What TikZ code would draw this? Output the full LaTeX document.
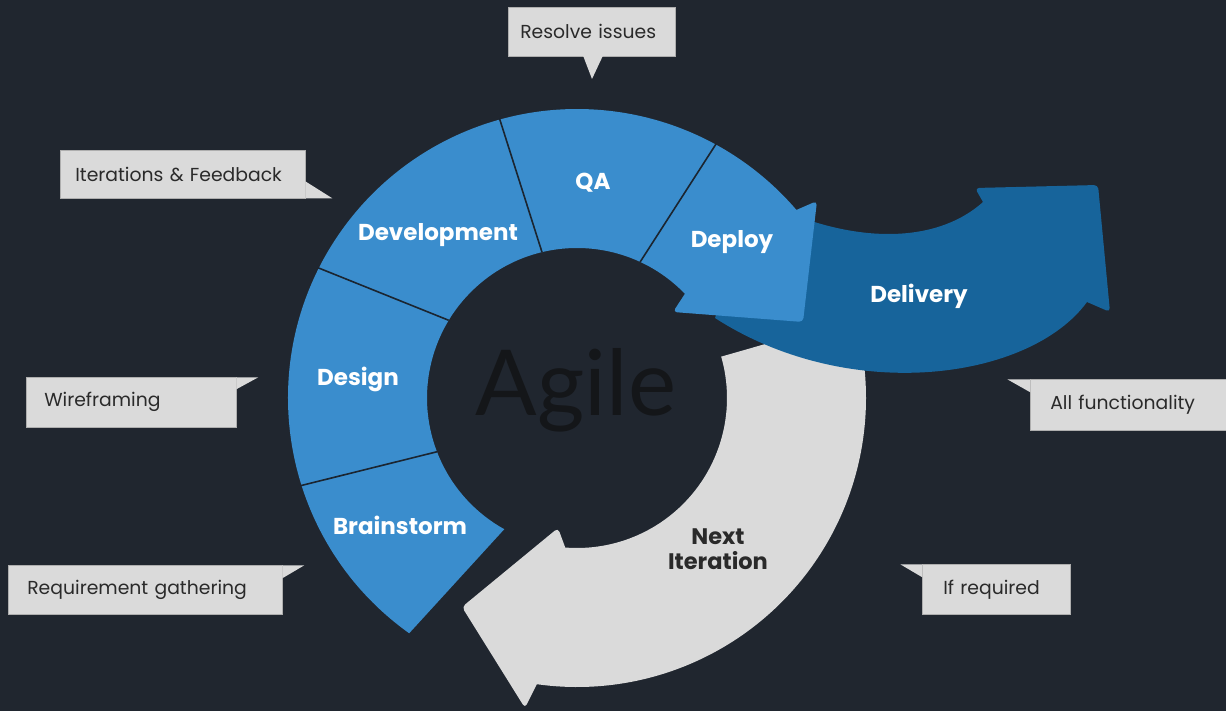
\documentclass[tikz,border=0pt]{standalone}
\usepackage{fontspec}
\setmainfont{Poppins}
\newfontfamily\agilefont{Lato}
\usetikzlibrary{calc}
\definecolor{bgc}{HTML}{20262F}
\definecolor{ringblue}{HTML}{3A8DCD}
\definecolor{delblue}{HTML}{17649B}
\definecolor{lgray}{HTML}{DADADA}
\definecolor{txtdark}{HTML}{2A2A2A}
\definecolor{sepc}{HTML}{1B2530}
\definecolor{agilec}{HTML}{141619}
\begin{document}
\begin{tikzpicture}[x=1pt,y=1pt,
  ringlabel/.style={text=white,font=\fontsize{23}{26}\selectfont\bfseries,inner sep=0pt},
  iterlabel/.style={text=txtdark,font=\fontsize{22.5}{25}\selectfont\bfseries,inner sep=0pt,align=center},
  callbox/.style={fill=lgray,draw=lgray!80!black,line width=0.6pt,anchor=north west,
    text=txtdark,font=\fontsize{18.8}{22}\selectfont,align=left,inner ysep=0pt},
  pointer/.style={fill=lgray},
  sepline/.style={draw=sepc,line width=1.6pt}]
\fill[bgc] (0,0) rectangle (1226,-711);
\useasboundingbox (0,0) rectangle (1226,-711);
\coordinate (C) at (577,-398);

% Next iteration (gray) arrow
\fill[lgray] ([shift={(C)}]16:150) arc[start angle=16,end angle=-94.5,radius=150]
  [rounded corners=4pt] -- (558,-528) -- (462,-607) -- (525,-708) [sharp corners]
  -- ([shift={(C)}]-98:289) arc[start angle=-98,end angle=16,radius=289] -- cycle;

% Delivery (dark blue) arrow
\fill[delblue] (760,-200) .. controls (850,-245) and (935,-245) .. (983,-202)
  [rounded corners=4pt] -- (975,-188) -- (1098,-185) -- (1110,-312) [sharp corners] -- (1087,-302)
  .. controls (1030,-380) and (850,-405) .. (715,-318) -- cycle;

% Blue ring with Deploy arrowhead
\fill[ringblue] ([shift={(C)}]234.5:289) arc[start angle=234.5,end angle=40.6,radius=289]
  [rounded corners=4pt] -- (817,-201) -- (803,-322) -- (673,-312) [sharp corners]
  -- ([shift={(C)}]44:150) arc[start angle=44,end angle=241,radius=150] -- cycle;

% separators
\coordinate (s1o) at ([shift={(C)}]197.6:290);
\coordinate (s1i) at ([shift={(C)}]201:150);
\coordinate (s2o) at ([shift={(C)}]153.3:290);
\coordinate (s2i) at ([shift={(C)}]148.8:150);
\coordinate (s3o) at ([shift={(C)}]105.5:290);
\coordinate (s3i) at ([shift={(C)}]103.5:150);
\coordinate (s4o) at ([shift={(C)}]61.3:290);
\coordinate (s4i) at ([shift={(C)}]65.1:150);
\draw[sepline] (s1o) -- (s1i);
\draw[sepline] (s2o) -- (s2i);
\draw[sepline] (s3o) -- (s3i);
\draw[sepline] (s4o) -- (s4i);

% centre word
\node[text=agilec,font=\agilefont\fontsize{91}{96}\selectfont,inner sep=0pt] (agile) at (576,-390) {Agile};

% ring labels
\node[ringlabel] (dev) at (438,-235) {Development};
\node[ringlabel] (qa) at (593,-183) {QA};
\node[ringlabel] (dep) at (732,-242) {Deploy};
\node[ringlabel] (des) at (358,-379) {Design};
\node[ringlabel] (brn) at (400,-525) {Brainstorm};
\node[ringlabel] (del) at (919,-296) {Delivery};
\node[iterlabel] (nxt) at (718,-549) {Next\\Iteration};

% callouts
\node[callbox,inner xsep=12pt,text width=143pt,minimum height=49pt] (c1) at (508,-7) {Resolve issues};
\fill[pointer] (583,-55.5) -- (603,-55.5) -- (592,-79) -- cycle;

\node[callbox,inner xsep=15pt,text width=215pt,minimum height=48pt] (c2) at (60,-150) {Iterations \& Feedback};
\fill[pointer] (c2.south east) ++(-0.3,0.3) -- ++(0,17) -- ++(27,-17) -- cycle;

\node[callbox,inner xsep=18pt,text width=174pt,minimum height=50pt] (c3) at (26,-377) {Wireframing};
\fill[pointer] (c3.north east) ++(-0.3,-0.3) -- ++(22,0) -- ++(-22,-12) -- cycle;

\node[callbox,inner xsep=19pt,text width=236pt,minimum height=49pt] (c4) at (8,-565) {Requirement gathering};
\fill[pointer] (c4.north east) ++(-0.3,-0.3) -- ++(22,0) -- ++(-22,-13) -- cycle;

\node[callbox,inner xsep=20pt,text width=170pt,minimum height=51pt] (c5) at (1030,-379) {All functionality};
\fill[pointer] (c5.north west) ++(0.3,-0.3) -- ++(-23,0) -- ++(23,-13) -- cycle;

\node[callbox,inner xsep=21pt,text width=106pt,minimum height=50pt] (c6) at (922,-564) {If required};
\fill[pointer] (c6.north west) ++(0.3,-0.3) -- ++(-22,0) -- ++(22,-13) -- cycle;
\end{tikzpicture}
\end{document}
